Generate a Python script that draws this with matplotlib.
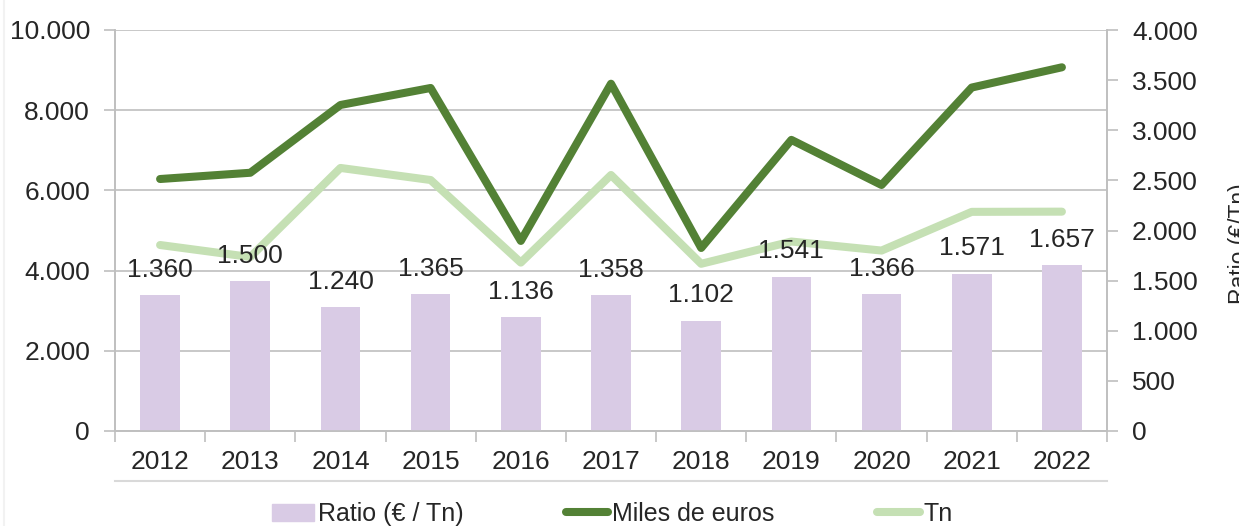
import matplotlib
matplotlib.use("Agg")
import matplotlib.pyplot as plt
from matplotlib.lines import Line2D
from matplotlib.patches import Patch
import numpy as np

plt.rcParams['font.family'] = ['Liberation Sans', 'DejaVu Sans']

years = ['2012', '2013', '2014', '2015', '2016', '2017', '2018', '2019', '2020', '2021', '2022']
ratio = [1360, 1500, 1240, 1365, 1136, 1358, 1102, 1541, 1366, 1571, 1657]
miles_euros = [6284, 6440, 8130, 8554, 4740, 8660, 4564, 7260, 6135, 8565, 9070]
toneladas = [4638, 4339, 6560, 6259, 4200, 6384, 4170, 4725, 4500, 5465, 5470]

c_bar = '#d9cbe5'
c_dark = '#538135'
c_light = '#c5e0b4'
c_grid = '#bfbfbf'
c_txt = '#262626'

fig = plt.figure(figsize=(12.39, 5.26), dpi=100)
ax1 = fig.add_axes([115 / 1239, 1 - 431 / 526, 992 / 1239, 401 / 526])
ax2 = ax1.twinx()

x = np.arange(len(years))

# lineas en eje izquierdo
ax1.plot(x, miles_euros, color=c_dark, lw=5.8, solid_capstyle='round', solid_joinstyle='round', zorder=3)
ax1.plot(x, toneladas, color=c_light, lw=5.8, solid_capstyle='round', solid_joinstyle='round', zorder=3)
ax1.set_ylim(0, 10000)
ax1.set_xlim(-0.5, len(years) - 0.5)
ax1.set_yticks(np.arange(0, 10001, 2000))
ax1.set_yticklabels([f'{v:,}'.replace(',', '.') for v in range(0, 10001, 2000)])
ax1.grid(axis='y', color=c_grid, lw=1.2)
ax1.set_axisbelow(True)

# barras en eje derecho
ax2.bar(x, ratio, width=0.44, color=c_bar, zorder=2)
for xi, v in zip(x, ratio):
    ax2.annotate(f'{v:,}'.replace(',', '.'), (xi, v), xytext=(0, 13), textcoords='offset points',
                 ha='center', va='baseline', fontsize=19, color=c_txt, zorder=5)
ax2.set_ylim(0, 4000)
ax2.set_yticks(np.arange(0, 4001, 500))
ax2.set_yticklabels([f'{v:,}'.replace(',', '.') for v in range(0, 4001, 500)])
ax2.set_ylabel('Ratio (€/Tn)', fontsize=16.5, color=c_txt)
ax2.yaxis.set_label_coords(1.122, 0.466)

ax1.set_xticks(x)
ax1.set_xticklabels(years)
ax1.set_xticks(np.arange(-0.5, len(years)), minor=True)
ax1.tick_params(axis='x', which='major', length=0, pad=14, labelsize=19, labelcolor=c_txt)
ax1.tick_params(axis='x', which='minor', length=8, width=1.2, color=c_grid)
ax1.tick_params(axis='y', length=8, width=1.2, color=c_grid, pad=10, labelsize=19, labelcolor=c_txt)
ax2.tick_params(axis='y', length=8, width=1.2, color=c_grid, pad=10, labelsize=19, labelcolor=c_txt)

for ax in (ax1, ax2):
    ax.spines['top'].set_visible(False)
    for s in ('left', 'right', 'bottom'):
        ax.spines[s].set_color(c_grid)
        ax.spines[s].set_linewidth(1.2)

# linea gris bajo las etiquetas y borde izquierdo
ax1.add_line(Line2D([0, 1], [-0.1247, -0.1247], transform=ax1.transAxes, color='#d9d9d9', lw=1.5, clip_on=False))
fig.add_artist(Line2D([4 / 1239, 4 / 1239], [0, 1], transform=fig.transFigure, color='#f2f2f2', lw=1.5))

handles = [Patch(color=c_bar), Line2D([], [], color=c_dark, lw=5.8, solid_capstyle='round'),
           Line2D([], [], color=c_light, lw=5.8, solid_capstyle='round')]
labels = ['Ratio (€ / Tn)', 'Miles de euros', 'Tn']
fig.legend(handles, labels, loc='center', bbox_to_anchor=(612 / 1239, 1 - 514 / 526), ncol=3, frameon=False,
           prop={'family': ['Liberation Sans Narrow', 'Liberation Sans'], 'size': 18},
           handlelength=1.7, handleheight=0.7, handletextpad=0.15, columnspacing=4.1, labelcolor=c_txt)

fig.savefig('out.png', dpi=100)
